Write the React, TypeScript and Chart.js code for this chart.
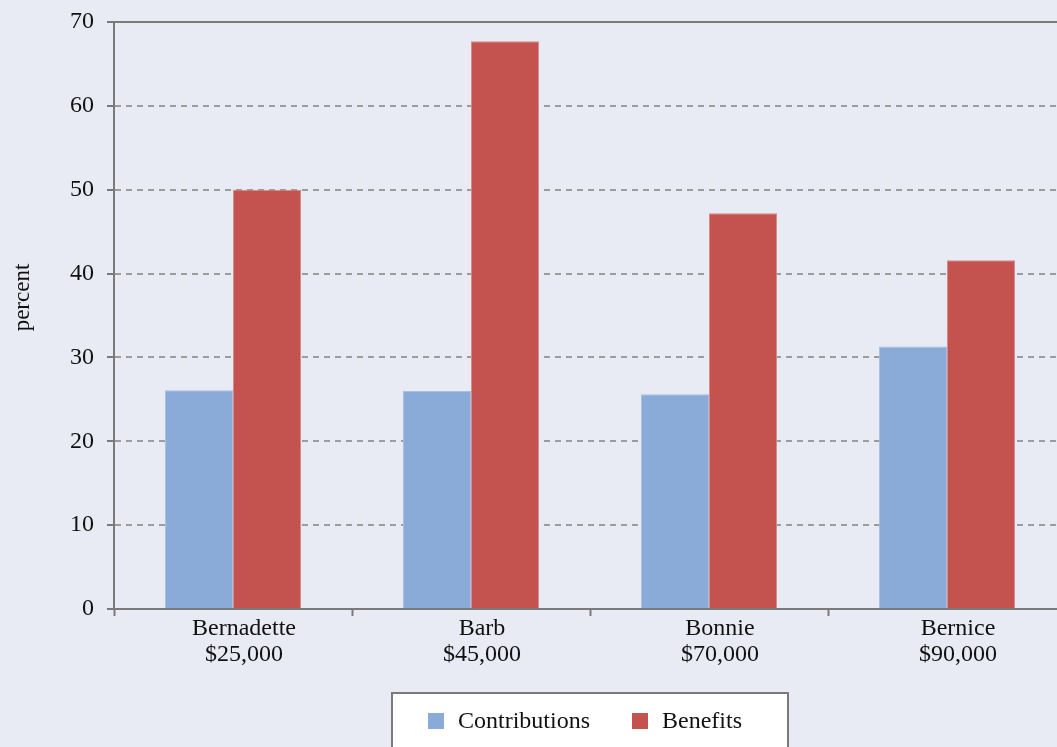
import { useEffect, useRef } from "react";
import { Chart, registerables } from "chart.js";

Chart.register(...registerables);

const people = ["Bernadette", "Barb", "Bonnie", "Bernice"];
const incomes = ["$25,000", "$45,000", "$70,000", "$90,000"];
const contributions = [26.1, 26.0, 25.6, 31.3];
const benefits = [50.0, 67.7, 47.2, 41.6];
const yTickValues = [0, 10, 20, 30, 40, 50, 60, 70];
const yTitle = "percent";

const FONT = "'Liberation Serif', 'Times New Roman', serif";
const BG = "#e8ebf3";
const AXIS = "#7a7a7a";
const GRID = "#9c9c9c";
const TEXT = "#111111";
const BLUE = "#8aaad8";
const RED = "#c4524e";

// Boxed legend centred under the plot, plus the rotated y-axis title.
const decorations = {
  id: "decorations",
  afterDraw(chart: any) {
    const { ctx, chartArea } = chart;
    ctx.save();

    // y title
    ctx.font = `23px ${FONT}`;
    ctx.fillStyle = TEXT;
    ctx.textAlign = "center";
    ctx.textBaseline = "middle";
    ctx.translate(23, (chartArea.top + chartArea.bottom) / 2 - 18);
    ctx.rotate(-Math.PI / 2);
    ctx.fillText(yTitle, 0, 0);
    ctx.setTransform(1, 0, 0, 1, 0, 0);

    // legend
    const items = chart.data.datasets.map((ds: any) => ({
      label: ds.label,
      color: ds.backgroundColor,
    }));
    ctx.font = `24px ${FONT}`;
    const padL = 36, sw = 16, gapT = 14, gapItem = 42, padR = 46;
    const widths = items.map((it: any) => ctx.measureText(it.label).width);
    const total =
      padL + padR +
      items.reduce((s: number, _it: any, i: number) => s + sw + gapT + widths[i], 0) +
      gapItem * (items.length - 1);
    const cx = (chartArea.left + chartArea.right) / 2;
    const x0 = Math.round(cx - total / 2);
    const y0 = Math.round(chartArea.bottom + 84);
    const h = chart.height - y0 + 10;
    ctx.fillStyle = "#ffffff";
    ctx.fillRect(x0, y0, total, h);
    ctx.strokeStyle = AXIS;
    ctx.lineWidth = 2;
    ctx.strokeRect(x0, y0, total, h);
    const cy = y0 + 28;
    let x = x0 + padL;
    items.forEach((it: any, i: number) => {
      ctx.fillStyle = it.color;
      ctx.fillRect(x, cy - 8, sw, sw);
      x += sw + gapT;
      ctx.fillStyle = TEXT;
      ctx.textAlign = "left";
      ctx.textBaseline = "middle";
      ctx.fillText(it.label, x, cy + 1);
      x += widths[i] + gapItem;
    });
    ctx.restore();
  },
};

export default function App() {
  const canvasRef = useRef<HTMLCanvasElement | null>(null);

  useEffect(() => {
    if (!canvasRef.current) return;
    const chart = new Chart(canvasRef.current, {
      type: "bar",
      data: {
        labels: people.map((p, i) => [p, incomes[i]]),
        datasets: [
          {
            label: "Contributions",
            data: contributions,
            backgroundColor: BLUE,
            borderColor: "#a6bfe3",
            borderWidth: 1,
          },
          {
            label: "Benefits",
            data: benefits,
            backgroundColor: RED,
            borderColor: "#d98a87",
            borderWidth: 1,
          },
        ],
      },
      options: {
        animation: false,
        responsive: true,
        maintainAspectRatio: false,
        layout: { padding: { top: 22, right: 6, left: 0, bottom: 0 } },
        datasets: {
          bar: { categoryPercentage: 0.572, barPercentage: 1.0 },
        },
        plugins: {
          legend: { display: false },
          tooltip: { enabled: false },
        },
        scales: {
          x: {
            afterFit: (s: any) => {
              s.height = 138;
            },
            grid: {
              offset: true,
              drawOnChartArea: false,
              drawTicks: true,
              tickLength: 7,
              tickColor: AXIS,
              tickWidth: 2,
            },
            border: { display: true, color: AXIS, width: 2 },
            ticks: {
              color: TEXT,
              padding: 0,
              labelOffset: 11,
              font: { family: FONT, size: 24, lineHeight: 1.08 },
            },
          },
          y: {
            min: 0,
            max: 70,
            afterFit: (s: any) => {
              s.width = 114;
              s.paddingTop = 0;
              s.paddingBottom = 0;
            },
            afterBuildTicks: (s: any) => {
              s.ticks = yTickValues.map((v) => ({ value: v }));
            },
            grid: {
              drawTicks: true,
              tickLength: 7,
              tickColor: AXIS,
              tickWidth: 2,
              tickBorderDash: [],
              lineWidth: 2,
              color: (c: any) =>
                c.tick && c.tick.value === 70
                  ? AXIS
                  : c.tick && c.tick.value === 0
                  ? "rgba(0,0,0,0)"
                  : GRID,
            },
            border: {
              display: true,
              color: AXIS,
              width: 2,
              dash: (c: any) => (c.tick && c.tick.value === 70 ? [] : [6, 5]),
            },
            ticks: {
              color: TEXT,
              padding: 13,
              font: { family: FONT, size: 24 },
            },
          },
        },
      },
      plugins: [decorations],
    });
    return () => chart.destroy();
  }, []);

  return (
    <div
      style={{
        position: "fixed",
        left: 0,
        top: 0,
        width: 1072,
        height: 747,
        background: BG,
      }}
    >
      <canvas ref={canvasRef} />
    </div>
  );
}
